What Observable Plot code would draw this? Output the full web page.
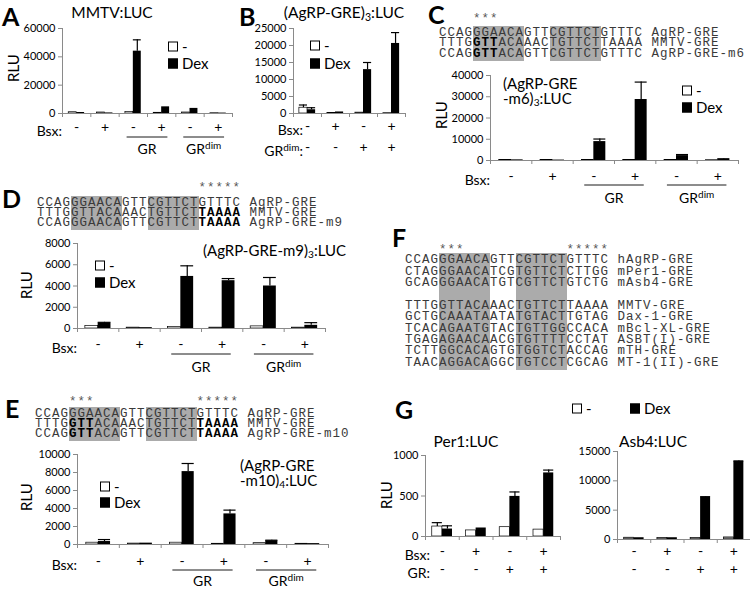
<!DOCTYPE html>
<html><head><meta charset="utf-8">
<script src="https://cdn.jsdelivr.net/npm/d3@7"></script>
<script src="https://cdn.jsdelivr.net/npm/@observablehq/plot@0.6"></script>
<style>
body{margin:0;background:#fff}
#fig{position:relative;width:750px;height:589px;overflow:hidden;font-family:Lato,sans-serif;color:#000;background:#fff}
.abs{position:absolute;white-space:nowrap;line-height:1}
.letter{font-weight:bold;font-size:25px}
.seq{position:absolute;font-family:"Liberation Mono",monospace;font-size:12.5px;letter-spacing:1px;color:#3a3a3a;white-space:pre}
.seq .g{background:#ababab}
.seq b{font-weight:bold;color:#000}
.stars{position:absolute;font-family:"Liberation Mono",monospace;font-size:12.5px;letter-spacing:1px;color:#555;white-space:pre;line-height:1}
.title{font-size:15.5px}
.lab{font-size:15px}
.leg{font-size:15px;display:flex;align-items:center}
.sq{display:inline-block;width:8px;height:8px;border:1px solid #000;margin-right:4px}
.sq.w{background:#fff}.sq.k{background:#000}
sub{font-size:0.68em;vertical-align:-0.25em;line-height:0}
.rlu{font-size:15px;transform:translate(-50%,-50%) rotate(-90deg)}
</style></head>
<body><div id="fig"></div>
<script>
// ---------- data ----------
const bsx6 = ["-", "+", "-", "+", "-", "+"];
const receptors6 = [{label: "GR", sup: "", first: 2, last: 3}, {label: "GR", sup: "dim", first: 4, last: 5}];
const bsx4 = ["-", "+", "-", "+"];
const grRow4 = ["-", "-", "+", "+"];

// A: MMTV:LUC
const ticksA = [0, 20000, 40000, 60000];
const minusA = [900, 700, 1100, 500, 700, 200];
const errMinusA = [0, 0, 0, 0, 0, 0];
const dexA = [700, 400, 44000, 4700, 3600, 300];
const errDexA = [0, 0, 8000, 0, 0, 0];

// B: (AgRP-GRE)3:LUC
const ticksB = [0, 5000, 10000, 15000, 20000, 25000];
const minusB = [1700, 150, 250, 100];
const errMinusB = [800, 0, 0, 0];
const dexB = [1100, 450, 12900, 20600];
const errDexB = [600, 0, 2100, 3200];

// C: (AgRP-GRE-m6)3:LUC
const ticksC = [0, 10000, 20000, 30000, 40000];
const minusC = [300, 200, 300, 200, 300, 150];
const errMinusC = [0, 0, 0, 0, 0, 0];
const dexC = [300, 200, 8900, 28700, 2300, 600];
const errDexC = [0, 0, 1200, 8200, 500, 200];

// D: (AgRP-GRE-m9)3:LUC
const ticksD = [0, 2000, 4000, 6000, 8000];
const minusD = [250, 80, 150, 80, 200, 80];
const errMinusD = [0, 0, 0, 0, 0, 0];
const dexD = [500, 80, 4900, 4500, 4000, 300];
const errDexD = [80, 0, 1000, 200, 800, 250];

// E: (AgRP-GRE-m10)4:LUC
const ticksE = [0, 2000, 4000, 6000, 8000, 10000];
const minusE = [200, 100, 200, 80, 150, 80];
const errMinusE = [0, 0, 0, 0, 0, 0];
const dexE = [330, 150, 8100, 3400, 420, 100];
const errDexE = [220, 0, 900, 420, 60, 0];

// G: Per1:LUC and Asb4:LUC
const ticksPer1 = [0, 500, 1000];
const minusPer1 = [123, 75, 115, 85];
const errMinusPer1 = [48, 0, 0, 0];
const dexPer1 = [92, 105, 495, 785];
const errDexPer1 = [40, 0, 55, 35];

const ticksAsb4 = [0, 5000, 10000, 15000];
const minusAsb4 = [300, 250, 250, 350];
const errMinusAsb4 = [0, 0, 0, 0];
const dexAsb4 = [300, 300, 7200, 13300];
const errDexAsb4 = [0, 0, 100, 100];

// sequences
const seqC = [
  {seq: "CCAGGGAACAGTTCGTTCTGTTTC", bold: [], name: "AgRP-GRE"},
  {seq: "TTTGGTTACAAACTGTTCTTAAAA", bold: [4, 5, 6], name: "MMTV-GRE"},
  {seq: "CCAGGTTACAGTTCGTTCTGTTTC", bold: [4, 5, 6], name: "AgRP-GRE-m6"}
];
const seqD = [
  {seq: "CCAGGGAACAGTTCGTTCTGTTTC", bold: [], name: "AgRP-GRE"},
  {seq: "TTTGGTTACAAACTGTTCTTAAAA", bold: [19, 20, 21, 22, 23], name: "MMTV-GRE"},
  {seq: "CCAGGGAACAGTTCGTTCTTAAAA", bold: [19, 20, 21, 22, 23], name: "AgRP-GRE-m9"}
];
const seqE = [
  {seq: "CCAGGGAACAGTTCGTTCTGTTTC", bold: [], name: "AgRP-GRE"},
  {seq: "TTTGGTTACAAACTGTTCTTAAAA", bold: [4, 5, 6, 19, 20, 21, 22, 23], name: "MMTV-GRE"},
  {seq: "CCAGGTTACAGTTCGTTCTTAAAA", bold: [4, 5, 6, 19, 20, 21, 22, 23], name: "AgRP-GRE-m10"}
];
const seqF = [
  {seq: "CCAGGGAACAGTTCGTTCTGTTTC", bold: [], name: "hAgRP-GRE"},
  {seq: "CTAGGGAACATCGTGTTCTCTTGG", bold: [], name: "mPer1-GRE"},
  {seq: "GCAGGGAACATGTCGTTCTGTCTG", bold: [], name: "mAsb4-GRE"},
  {seq: "                        ", bold: [], name: ""},
  {seq: "TTTGGTTACAAACTGTTCTTAAAA", bold: [], name: "MMTV-GRE"},
  {seq: "GCTGCAAATAATATGTACTTGTAG", bold: [], name: "Dax-1-GRE"},
  {seq: "TCACAGAATGTACTGTTGGCCACA", bold: [], name: "mBcl-XL-GRE"},
  {seq: "TGAGAGAACAACGTGTTTTCCTAT", bold: [], name: "ASBT(I)-GRE"},
  {seq: "TCTTGGCACAGTGTGGTCTACCAG", bold: [], name: "mTH-GRE"},
  {seq: "TAACAGGACAGGCTGTCCTCGCAG", bold: [], name: "MT-1(II)-GRE"}
];
const shadeRanges = [[4, 10], [13, 19]];

// ---------- helpers ----------
const fig = document.getElementById("fig");
function put(html, x, y, cls, anchor) {
  const d = document.createElement("div");
  d.className = "abs " + (cls || "");
  d.innerHTML = html;
  d.style.left = x + "px"; d.style.top = y + "px";
  d.style.transform = anchor === "c" ? "translate(-50%,-50%)" : "translateY(-50%)";
  fig.appendChild(d);
  return d;
}
function rlu(x, y) {
  const d = document.createElement("div");
  d.className = "abs rlu"; d.textContent = "RLU";
  d.style.left = x + "px"; d.style.top = y + "px";
  fig.appendChild(d);
}
function legendV(x, y1, y2) {
  put('<span class="sq w"></span>-', x, y1, "leg");
  put('<span class="sq k"></span>Dex', x, y2, "leg");
}
function seqBlock(rows, left, firstCenter, lh) {
  const d = document.createElement("div");
  d.className = "seq";
  d.style.left = left + "px";
  d.style.lineHeight = lh + "px";
  d.style.top = (firstCenter - lh / 2 + 0.8) + "px";
  d.innerHTML = rows.map(r => {
    // group characters into runs with the same (shaded, bold) state
    const runs = [];
    for (let k = 0; k < r.seq.length; k++) {
      const sh = shadeRanges.some(([a, b]) => k >= a && k < b);
      const bo = r.bold.includes(k);
      const last = runs[runs.length - 1];
      if (last && last.sh === sh && last.bo === bo) last.t += r.seq[k];
      else runs.push({sh, bo, t: r.seq[k]});
    }
    let html = "", i = 0;
    while (i < runs.length) {
      const sh = runs[i].sh;
      let inner = "";
      while (i < runs.length && runs[i].sh === sh) {
        inner += runs[i].bo ? "<b>" + runs[i].t + "</b>" : runs[i].t;
        i++;
      }
      html += sh ? '<span class="g">' + inner + '</span>' : inner;
    }
    return html + " " + r.name;
  }).join("\n");
  fig.appendChild(d);
}
function stars(text, left, cy) {
  const d = document.createElement("div");
  d.className = "stars"; d.textContent = text;
  d.style.left = left + "px"; d.style.top = (cy - 4) + "px";
  fig.appendChild(d);
}

function chart(c) {
  const mL = 70, mR = 10, mT = 10, mB = 55;
  const [x0, y0, x1, y1] = c.frame;
  const width = x1 - x0 + mL + mR, height = y1 - y0 + mT + mB;
  const n = c.minus.length, bw = c.bw;
  const minusData = c.minus.map((v, i) => ({i, v, e: c.errMinus[i], cx: i - bw / 2}));
  const dexData = c.dex.map((v, i) => ({i, v, e: c.errDex[i], cx: i + bw / 2}));
  const errs = minusData.concat(dexData).filter(d => d.e > 0);
  const deco = (index, scales, values, dims) => {
    const X = scales.x;
    const yb = dims.height - dims.marginBottom;
    const g = d3.create("svg:g").attr("font-family", "Lato, sans-serif").attr("font-size", 14).attr("fill", "#000");
    (c.heads || []).forEach(h => {
      const t = g.append("text").attr("x", X(-0.5) + (c.headDx || 0)).attr("y", yb + h.dy).attr("dy", "0.35em").attr("text-anchor", "end");
      t.append("tspan").text(h.text);
      if (h.sup) {
        t.append("tspan").attr("font-size", 10).attr("dy", -5).text(h.sup);
        t.append("tspan").attr("dy", 5).text(":");
      }
    });
    (c.receptors || []).forEach(r => {
      g.append("line")
        .attr("x1", X(r.first - 0.5 + 0.28)).attr("x2", X(r.last + 0.5 - 0.28))
        .attr("y1", yb + c.ulDy).attr("y2", yb + c.ulDy).attr("stroke", "#000").attr("stroke-width", 0.9);
      const t = g.append("text").attr("x", X((r.first + r.last) / 2)).attr("y", yb + c.glDy).attr("dy", "0.35em").attr("text-anchor", "middle");
      t.append("tspan").text(r.label);
      if (r.sup) t.append("tspan").attr("font-size", 10).attr("dy", -5).text(r.sup);
    });
    return g.node();
  };
  const svg = Plot.plot({
    width, height, marginLeft: mL, marginRight: mR, marginTop: mT, marginBottom: mB,
    x: {domain: [-0.5, n - 0.5], label: null},
    y: {domain: [0, c.ymax], label: null},
    style: {fontFamily: "Lato, sans-serif", fontSize: "11px", overflow: "visible", background: "transparent"},
    marks: [
      Plot.rectY(minusData, {x1: d => d.i - bw, x2: d => d.i, y1: 0, y2: "v", fill: c.minusFill, stroke: "#000", strokeWidth: 0.7}),
      Plot.rectY(dexData, {x1: d => d.i, x2: d => d.i + bw, y1: 0, y2: "v", fill: "#000"}),
      Plot.ruleX(errs, {x: "cx", y1: "v", y2: d => d.v + d.e, stroke: "#000", strokeWidth: 1.2}),
      Plot.ruleY(errs, {y: d => d.v + d.e, x1: d => d.cx - bw / 2, x2: d => d.cx + bw / 2, stroke: "#000", strokeWidth: 1.2}),
      Plot.ruleX([-0.5], {y1: 0, y2: c.ymax, stroke: "#8a8a8a"}),
      Plot.ruleY([0], {x1: -0.5, x2: n - 0.5, stroke: "#8a8a8a"}),
      Plot.axisY({ticks: c.ticks, tickSize: 4, tickPadding: 3, tickFormat: d => String(d), fontSize: 11, stroke: "#8a8a8a", fill: "#000", label: null}),
      Plot.axisX({ticks: d3.range(n + 1).map(k => k - 0.5), tickSize: 4, tickFormat: () => "", stroke: "#8a8a8a", label: null}),
      ...c.rows.map((row, k) => Plot.text(row.map((t, i) => ({i, t})), {x: "i", text: "t", frameAnchor: "bottom", dy: c.rowDy[k], fontSize: 14, fill: "#000"})),
      deco
    ]
  });
  svg.style.position = "absolute";
  svg.style.left = (x0 - mL) + "px";
  svg.style.top = (y0 - mT) + "px";
  fig.appendChild(svg);
}

// ---------- panels ----------
// A
put("A", 2, 16, "letter");
put("MMTV:LUC", 112, 13, "title", "c");
rlu(13, 68);
chart({frame: [62, 28, 232, 113], ymax: 60000, ticks: ticksA, minus: minusA, errMinus: errMinusA, dex: dexA, errDex: errDexA,
  bw: 0.28, minusFill: "#fff", rows: [bsx6], rowDy: [18], heads: [{text: "Bsx:", dy: 18}], headDx: 0,
  receptors: receptors6, ulDy: 24, glDy: 36});
legendV(168, 46, 63);

// B
put("B", 239, 16, "letter");
put("(AgRP-GRE)<sub>3</sub>:LUC", 344, 13, "title", "c");
chart({frame: [293, 28, 405, 113], ymax: 25000, ticks: ticksB, minus: minusB, errMinus: errMinusB, dex: dexB, errDex: errDexB,
  bw: 0.29, minusFill: "#fff", rows: [bsx4, grRow4], rowDy: [17, 38],
  heads: [{text: "Bsx:", dy: 17}, {text: "GR", sup: "dim", dy: 38}], headDx: 10});
legendV(310, 45, 63);

// C
put("C", 428, 14, "letter");
stars("    ***", 439, 17);
seqBlock(seqC, 439, 32, 10.5);
rlu(441, 115);
chart({frame: [490, 75, 738, 160], ymax: 40000, ticks: ticksC, minus: minusC, errMinus: errMinusC, dex: dexC, errDex: errDexC,
  bw: 0.29, minusFill: "#fff", rows: [bsx6], rowDy: [20], heads: [{text: "Bsx:", dy: 20}], headDx: 0,
  receptors: receptors6, ulDy: 25, glDy: 38});
put("(AgRP-GRE", 503, 83, "lab");
put("-m6)<sub>3</sub>:LUC", 503, 98, "lab");
legendV(682, 90, 107);

// D
put("D", 2, 198, "letter");
stars("                   *****", 37, 186);
seqBlock(seqD, 37, 202, 10);
rlu(26, 285);
chart({frame: [77, 243, 325, 328], ymax: 8000, ticks: ticksD, minus: minusD, errMinus: errMinusD, dex: dexD, errDex: errDexD,
  bw: 0.31, minusFill: "#fff", rows: [bsx6], rowDy: [20], heads: [{text: "Bsx:", dy: 20}], headDx: 0,
  receptors: receptors6, ulDy: 26, glDy: 39});
put("(AgRP-GRE-m9)<sub>3</sub>:LUC", 203, 250, "lab");
legendV(95, 265, 282);

// E
put("E", 5, 408, "letter");
stars("    ***            *****", 35, 400);
seqBlock(seqE, 35, 413, 10);
rlu(26, 497);
chart({frame: [77, 454, 328, 544], ymax: 10000, ticks: ticksE, minus: minusE, errMinus: errMinusE, dex: dexE, errDex: errDexE,
  bw: 0.29, minusFill: "#fff", rows: [bsx6], rowDy: [21], heads: [{text: "Bsx:", dy: 21}], headDx: 0,
  receptors: receptors6, ulDy: 26, glDy: 37});
put("(AgRP-GRE", 240, 465, "lab");
put("-m10)<sub>4</sub>:LUC", 240, 480, "lab");
legendV(100, 486, 502);

// F
put("F", 392, 237, "letter");
stars("    ***            *****", 405, 248);
seqBlock(seqF, 405, 260, 11.4);

// G
put("G", 395, 409, "letter");
put('<span class="sq w"></span>-', 572, 408, "leg");
put('<span class="sq k"></span>Dex', 630, 408, "leg");
put("Per1:LUC", 466, 442, "title", "c");
put("Asb4:LUC", 653, 442, "title", "c");
rlu(386, 495);
chart({frame: [425, 455, 560, 536], ymax: 1000, ticks: ticksPer1, minus: minusPer1, errMinus: errMinusPer1, dex: dexPer1, errDex: errDexPer1,
  bw: 0.3, minusFill: "#fff", rows: [bsx4, grRow4], rowDy: [19, 37],
  heads: [{text: "Bsx:", dy: 19}, {text: "GR:", dy: 37}], headDx: 5});
chart({frame: [617, 451, 750, 539], ymax: 15000, ticks: ticksAsb4, minus: minusAsb4, errMinus: errMinusAsb4, dex: dexAsb4, errDex: errDexAsb4,
  bw: 0.3, minusFill: "#8c8c8c", rows: [bsx4, grRow4], rowDy: [16, 34]});
</script></body></html>
